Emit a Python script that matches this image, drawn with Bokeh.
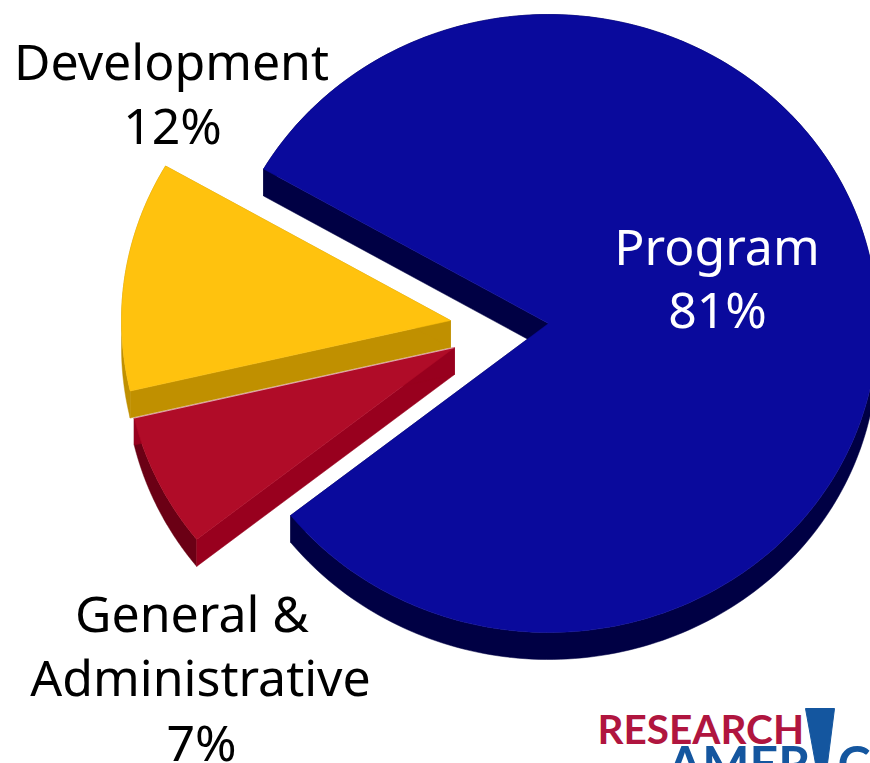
import numpy as np
from bokeh.plotting import figure
from bokeh.core.properties import value
from bokeh.embed import file_html
from bokeh.resources import INLINE

# Data
categories = ["Program", "General & Administrative", "Development"]
shares = [81, 7, 12]
label_lines = ["Development", "12%", "Program", "81%", "General &", "Administrative", "7%"]
logo_top = "RESEARCH"
logo_bottom = ["AMER", "CA"]

# Style / layout
FONT = "Noto Sans"
RX, RY, DEPTH = 329, 309, 27
START = 150.0
centers = {"Program": (548, 323), "General & Administrative": (454, 347), "Development": (450, 320)}
top_col = {"Program": "#0a0a9c", "General & Administrative": "#b00c28", "Development": "#ffc20e"}
edge_col = {"Program": "#000044", "General & Administrative": "#98001e", "Development": "#c09000"}
rim_col = {"Program": "#000044", "General & Administrative": "#6b0015", "Development": "#c09000"}

p = figure(width=870, height=763, x_range=(0, 870), y_range=(763, 0),
           output_backend="svg", toolbar_location=None, min_border=0)
p.axis.visible = False
p.grid.visible = False
p.outline_line_color = None
p.background_fill_color = "white"
p.border_fill_color = "white"


def arc(cx, cy, a0, a1):
    t = np.radians(np.linspace(a0, a1, 240))
    return cx + RX * np.cos(t), cy - RY * np.sin(t)


spans = {}
a = START
for c, s in zip(categories, shares):
    spans[c] = (a, a - s * 3.6)
    a -= s * 3.6

for c in categories:  # blue, red, yellow: later pieces sit on top
    cx, cy = centers[c]
    a0, a1 = spans[c]
    ax, ay = arc(cx, cy, a0, a1)
    # rim: the arc extruded downward
    p.patch(np.r_[ax, ax[::-1]], np.r_[ay, ay[::-1] + DEPTH], color=rim_col[c], line_width=0.5)
    # cut faces
    for ex, ey in ((ax[0], ay[0]), (ax[-1], ay[-1])):
        p.patch([cx, ex, ex, cx], [cy, ey, ey + DEPTH, cy + DEPTH], color=edge_col[c], line_width=0.5)
    # top face
    p.patch(np.r_[cx, ax], np.r_[cy, ay], color=top_col[c], line_width=0.5)

# pale seam between the two small slices
c = "General & Administrative"
sx, sy = arc(*centers[c], spans[c][1], spans[c][1])
p.line([centers[c][0], sx[0]], [centers[c][1], sy[0]], line_color="#ffffff", line_alpha=0.6, line_width=1)

lx = [171, 172, 716.5, 717, 191.5, 200, 201]
ly = [60, 124, 245, 308, 612, 676, 741]
lc = ["#000000", "#000000", "#ffffff", "#ffffff", "#000000", "#000000", "#000000"]
p.text(x=lx, y=ly, text=label_lines, text_color=lc, text_font=value(FONT), text_font_size="50px",
       text_align="center", text_baseline="alphabetic")

# logo
p.text(x=[597], y=[728], text=[logo_top], text_color="#b0153f", text_font=value("Lato"),
       text_font_size="40.5px", text_font_style="bold", text_baseline="alphabetic")
p.text(x=[667, 837], y=[762, 762], text=logo_bottom, text_color="#14569f", text_font=value("Lato"),
       text_font_size="50px", text_font_style="bold", text_baseline="alphabetic")
bang_x, bang_y = [805, 834, 827, 815], [708, 708, 763, 763]
p.patch(bang_x, bang_y, color="#14569f")

open("out.html", "w").write(file_html(p, INLINE))
